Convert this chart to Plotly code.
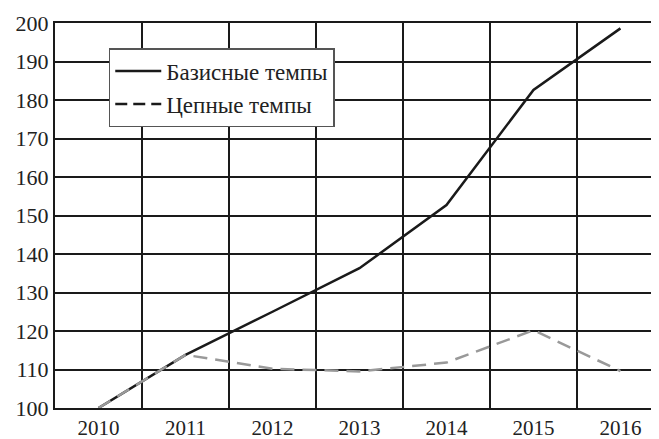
import plotly.graph_objects as go

years = ["2010", "2011", "2012", "2013", "2014", "2015", "2016"]
basic = [100, 113.8, 125.0, 136.3, 152.7, 182.6, 198.6]
chain = [100, 113.8, 110.2, 109.5, 111.8, 120.2, 109.6]
y_ticks = [100, 110, 120, 130, 140, 150, 160, 170, 180, 190, 200]

fig = go.Figure()
fig.add_trace(go.Scatter(x=years, y=basic, mode="lines", name="Базисные темпы",
                         line=dict(color="#1a1a1a", width=2.5)))
fig.add_trace(go.Scatter(x=years, y=chain, mode="lines", name="Цепные темпы",
                         showlegend=False,
                         line=dict(color="#999999", width=2.5, dash="14px,8px")))
# legend entry for the chain series (drawn black in the legend, as in the reference)
fig.add_trace(go.Scatter(x=[years[0]], y=[None], mode="lines", name="Цепные темпы",
                         line=dict(color="#1a1a1a", width=2.5, dash="12px,6px")))

font = dict(family="Liberation Serif", size=23, color="#222222")
xfont = dict(family="Liberation Serif", size=21, color="#222222")
yfont = dict(family="Liberation Serif", size=22, color="#222222")
fig.update_layout(
    width=651, height=431,
    margin=dict(l=47, r=0, t=15, b=31, autoexpand=False),
    paper_bgcolor="white", plot_bgcolor="white",
    font=font,
    showlegend=True,
    legend=dict(x=0.089, y=0.935, xanchor="left", yanchor="top",
                bgcolor="white", bordercolor="#555555", borderwidth=1.5,
                font=font, tracegroupgap=0, itemwidth=46),
)
fig.update_xaxes(type="category", tickson="boundaries", range=[-0.5, 6.443],
                 showgrid=True, gridcolor="#1a1a1a", gridwidth=2,
                 showline=True, linecolor="#1a1a1a", linewidth=2, mirror=True,
                 ticks="", tickfont=xfont, automargin=False)
fig.update_yaxes(range=[100, 200], tickvals=y_ticks,
                 showgrid=True, gridcolor="#1a1a1a", gridwidth=2,
                 showline=True, linecolor="#1a1a1a", linewidth=2,
                 zeroline=False, ticks="", tickfont=yfont, automargin=False)

fig.write_html("out.html")
